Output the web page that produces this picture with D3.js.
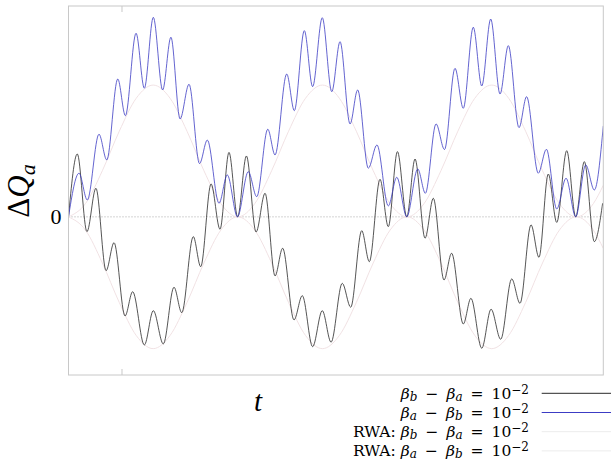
<!DOCTYPE html>
<html>
<head>
<meta charset="utf-8">
<script src="https://cdn.jsdelivr.net/npm/d3@7"></script>
<style>
  body { margin: 0; background: #fff; }
  text { font-family: "Liberation Serif", "DejaVu Serif", serif; fill: #000; }
  .legend text { font-family: "DejaVu Serif", serif; }
</style>
</head>
<body>
<div id="chart"></div>
<script>
// beta_b - beta_a = 1e-2 (black) : extrema
var blackT = [0,0.052,0.109,0.162,0.222,0.269,0.334,0.379,0.448,0.501,0.560,0.623,0.669,0.737,0.781,0.842,0.895,0.948,0.999,1.051,1.108,1.161,1.220,1.265,1.332,1.381,1.442,1.499,1.551,1.617,1.667,1.732,1.777,1.840,1.889,1.943,1.998,2.047,2.106,2.155,2.218,2.263,2.332,2.377,2.441,2.496,2.553,2.618,2.667,2.732,2.779,2.834,2.884,2.943,2.996,3.047,3.106,3.155];
var blackQ = [0,0.477,-0.112,0.217,-0.408,-0.196,-0.752,-0.568,-0.972,-0.712,-0.964,-0.534,-0.727,-0.150,-0.378,0.250,-0.094,0.489,0,0.462,-0.115,0.179,-0.448,-0.238,-0.782,-0.598,-0.985,-0.712,-0.951,-0.504,-0.686,-0.105,-0.340,0.285,-0.074,0.495,0,0.439,-0.162,0.141,-0.479,-0.276,-0.813,-0.618,-0.997,-0.701,-0.929,-0.471,-0.656,-0.061,-0.307,0.325,-0.042,0.502,0,0.419,-0.188,0.103];

// beta_a - beta_b = 1e-2 (blue)
var blueT = [0,0.062,0.111,0.180,0.226,0.291,0.336,0.399,0.448,0.501,0.556,0.605,0.659,0.712,0.774,0.820,0.889,0.938,0.998,1.062,1.112,1.177,1.220,1.289,1.334,1.393,1.442,1.499,1.555,1.604,1.663,1.708,1.771,1.822,1.889,1.939,1.998,2.063,2.108,2.171,2.221,2.283,2.332,2.391,2.441,2.494,2.549,2.598,2.661,2.706,2.775,2.823,2.884,2.939,2.996,3.055,3.106,3.159];
var blueQ = [0,0.331,0.128,0.627,0.432,1.046,0.768,1.393,0.976,1.514,0.963,1.363,0.743,1.006,0.404,0.583,0.103,0.318,0,0.343,0.153,0.665,0.470,1.084,0.806,1.413,0.988,1.511,0.950,1.329,0.705,0.963,0.369,0.546,0.083,0.300,0,0.363,0.179,0.705,0.511,1.127,0.824,1.439,0.993,1.501,0.932,1.299,0.677,0.912,0.331,0.513,0.060,0.293,0,0.394,0.204,0.690];

// RWA envelopes
var rwaT = [0,0.1,0.2,0.3,0.4,0.5,0.6,0.7,0.8,0.9,1.0,1.1,1.2,1.3,1.4,1.5,1.6,1.7,1.8,1.9,2.0,2.1,2.2,2.3,2.4,2.5,2.6,2.7,2.8,2.9,3.0,3.1,3.159];
var rwaUpper = [0,0.10,0.35,0.65,0.90,1.00,0.90,0.65,0.35,0.10,0,0.10,0.35,0.65,0.90,1.00,0.90,0.65,0.35,0.10,0,0.10,0.35,0.65,0.90,1.00,0.90,0.65,0.35,0.10,0,0.10,0.24];
var rwaLower = [0,-0.10,-0.35,-0.65,-0.90,-1.00,-0.90,-0.65,-0.35,-0.10,0,-0.10,-0.35,-0.65,-0.90,-1.00,-0.90,-0.65,-0.35,-0.10,0,-0.10,-0.35,-0.65,-0.90,-1.00,-0.90,-0.65,-0.35,-0.10,0,-0.10,-0.24];

var xTicks = [0.316];
var yTicks = [0];
var yTickLabels = ["0"];

var svgWidth = 611;
var svgHeight = 467;

var margin = { top: 6, right: 7.7, bottom: 92, left: 68.5 };

var width = svgWidth - margin.left - margin.right;
var height = svgHeight - margin.top - margin.bottom;

var svg = d3.select("#chart")
    .append("svg")
    .attr("width", svgWidth)
    .attr("height", svgHeight);

var chartGroup = svg.append("g")
    .attr("transform", `translate(${margin.left}, ${margin.top})`);

var xScale = d3.scaleLinear().domain([0, 3.159]).range([0, width]);
var yScale = d3.scaleLinear().domain([-1.2, 1.6]).range([height, 0]);

svg.append("defs").append("clipPath").attr("id", "plotClip")
    .append("rect").attr("width", width).attr("height", height);

// zero line
chartGroup.selectAll("line.zero")
    .data(yTicks)
    .enter()
    .append("line")
    .attr("x1", 0).attr("x2", width)
    .attr("y1", d => yScale(d)).attr("y2", d => yScale(d))
    .attr("stroke", "#aaa")
    .attr("stroke-width", 1)
    .attr("stroke-dasharray", "1,2");

chartGroup.selectAll("text.ylab")
    .data(yTicks)
    .enter()
    .append("text")
    .attr("x", -7)
    .attr("y", d => yScale(d) + 7)
    .attr("text-anchor", "end")
    .style("font-size", "22px")
    .text((d, i) => yTickLabels[i]);

var plot = chartGroup.append("g").attr("clip-path", "url(#plotClip)");

function series(ts, qs) {
    return ts.map((t, i) => ({ t: t, q: qs[i] }));
}

var line = d3.line()
    .x(d => xScale(d.t))
    .y(d => yScale(d.q))
    .curve(d3.curveMonotoneX);

plot.append("path").datum(series(rwaT, rwaUpper))
    .attr("d", line).attr("fill", "none")
    .attr("stroke", "#f1e2e4").attr("stroke-width", 1);

plot.append("path").datum(series(rwaT, rwaLower))
    .attr("d", line).attr("fill", "none")
    .attr("stroke", "#f1e2e4").attr("stroke-width", 1);

plot.append("path").datum(series(blackT, blackQ))
    .attr("d", line).attr("fill", "none")
    .attr("stroke", "#2a2a2a").attr("stroke-width", 0.8);

plot.append("path").datum(series(blueT, blueQ))
    .attr("d", line).attr("fill", "none")
    .attr("stroke", "#3c3cc4").attr("stroke-width", 0.8);

// frame
chartGroup.append("rect")
    .attr("width", width).attr("height", height)
    .attr("fill", "none")
    .attr("stroke", "#c8c8c8")
    .attr("stroke-width", 1);

xTicks.forEach(function(t) {
    chartGroup.append("line")
        .attr("x1", xScale(t)).attr("x2", xScale(t))
        .attr("y1", 0).attr("y2", 6)
        .attr("stroke", "#c8c8c8");
    chartGroup.append("line")
        .attr("x1", xScale(t)).attr("x2", xScale(t))
        .attr("y1", height).attr("y2", height - 6)
        .attr("stroke", "#c8c8c8");
});

// axis labels
var yLab = svg.append("text")
    .attr("transform", "translate(29, 191) rotate(-90)")
    .attr("text-anchor", "middle")
    .style("font-size", "31px");
yLab.append("tspan").text("Δ");
yLab.append("tspan").style("font-style", "italic").text("Q");
yLab.append("tspan").style("font-style", "italic").style("font-size", "22px").attr("dy", 6).text("a");

svg.append("text")
    .attr("x", 258).attr("y", 411)
    .attr("text-anchor", "middle")
    .style("font-size", "29px")
    .style("font-style", "italic")
    .text("t");

// legend
var legendRows = [
    { prefix: "", s1: "b", s2: "a", color: "#2a2a2a" },
    { prefix: "", s1: "a", s2: "b", color: "#3c3cc4" },
    { prefix: "RWA:", s1: "b", s2: "a", color: "#ececec" },
    { prefix: "RWA:", s1: "a", s2: "b", color: "#ececec" }
];

var legend = svg.append("g").attr("class", "legend");
legendRows.forEach(function(r, i) {
    var y = 393.3 + i * 19.2;
    legend.append("line")
        .attr("x1", 541.7).attr("x2", 611)
        .attr("y1", y).attr("y2", y)
        .attr("stroke", r.color).attr("stroke-width", 1);
    var tx = legend.append("text")
        .attr("x", 529).attr("y", y + 5.5)
        .attr("text-anchor", "end")
        .style("font-size", "15.5px");
    if (r.prefix) tx.append("tspan").text(r.prefix);
    tx.append("tspan").style("font-style", "italic").attr("dx", r.prefix ? 5 : 0).text("β");
    tx.append("tspan").style("font-style", "italic").style("font-size", "12px").attr("dy", 2).text(r.s1);
    tx.append("tspan").attr("dy", -2).attr("dx", 8).text("−");
    tx.append("tspan").style("font-style", "italic").attr("dx", 8).text("β");
    tx.append("tspan").style("font-style", "italic").style("font-size", "12px").attr("dy", 2).text(r.s2);
    tx.append("tspan").attr("dy", -2).attr("dx", 8).text("=");
    tx.append("tspan").attr("dx", 8).text("10");
    tx.append("tspan").style("font-size", "12px").attr("dy", -5).text("−2");
});
</script>
</body>
</html>
